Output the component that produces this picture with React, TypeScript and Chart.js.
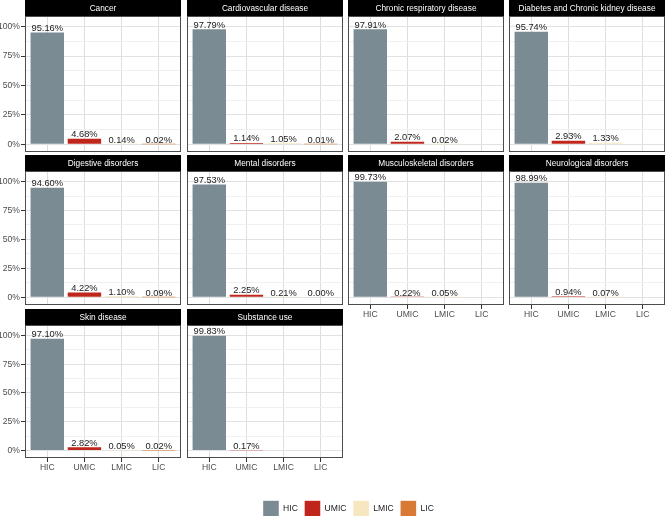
import React, { useEffect, useRef } from 'react';
import { Chart, registerables } from 'chart.js';

Chart.register(...registerables);

// ---------------- data ----------------
const causes = [
  'Cancer',
  'Cardiovascular disease',
  'Chronic respiratory disease',
  'Diabetes and Chronic kidney disease',
  'Digestive disorders',
  'Mental disorders',
  'Musculoskeletal disorders',
  'Neurological disorders',
  'Skin disease',
  'Substance use',
];
const incomeGroups = ['HIC', 'UMIC', 'LMIC', 'LIC'];
const groupColors = ['#7A8B93', '#C0261C', '#F7E7C1', '#D87A35'];

// share (%) of each income group; null = no bar / no label
const cancer = [95.16, 4.68, 0.14, 0.02];
const cardiovascular = [97.79, 1.14, 1.05, 0.01];
const chronicRespiratory = [97.91, 2.07, 0.02, null];
const diabetesCkd = [95.74, 2.93, 1.33, null];
const digestive = [94.6, 4.22, 1.1, 0.09];
const mental = [97.53, 2.25, 0.21, 0.0];
const musculoskeletal = [99.73, 0.22, 0.05, null];
const neurological = [98.99, 0.94, 0.07, null];
const skin = [97.1, 2.82, 0.05, 0.02];
const substance = [99.83, 0.17, null, null];

const yMajorTicks = [0, 25, 50, 75, 100];
const yMinorTicks = [12.5, 37.5, 62.5, 87.5];

const panelValues = [
  cancer, cardiovascular, chronicRespiratory, diabetesCkd, digestive,
  mental, musculoskeletal, neurological, skin, substance,
];
const panels = causes.map((title, i) => ({ title, values: panelValues[i] as (number | null)[] }));

// ---------------- layout ----------------
const FONT = '"Liberation Sans", Arial, Helvetica, sans-serif';
const W = 666;
const H = 516;
const COL_LEFT = [25, 187, 348, 509];
const PANEL_W = 156;
const ROW_STRIP_TOP = [0, 155, 309];
const STRIP_H = 16;
const ROW_PLOT_BOTTOM = [152, 305, 458];
const Y_MIN = -6.6;
const Y_MAX = 109.1;
const Y_AXIS_W = 25;
const X_AXIS_H = 16;

function panelConfig(p: { title: string; values: (number | null)[] }, i: number): any {
  const col = i % 4;
  const row = Math.floor(i / 4);
  const showY = col === 0;
  const showX = row === 2 || (row === 1 && col >= 2);
  const left = COL_LEFT[col];
  const right = left + PANEL_W;
  const plotTop = ROW_STRIP_TOP[row] + STRIP_H;
  const plotBottom = ROW_PLOT_BOTTOM[row];
  const yW = showY ? Y_AXIS_W : 0;
  const xH = showX ? X_AXIS_H : 0;

  const decor = {
    id: 'panelDecor',
    afterDatasetsDraw(chart: any) {
      const ctx = chart.ctx;
      const meta = chart.getDatasetMeta(0);
      ctx.save();
      ctx.font = `9.3px ${FONT}`;
      ctx.fillStyle = '#1a1a1a';
      ctx.textAlign = 'center';
      ctx.textBaseline = 'alphabetic';
      p.values.forEach((v, k) => {
        if (v === null || v === undefined) return;
        const el = meta.data[k];
        if (!el) return;
        ctx.fillText(`${v.toFixed(2)}%`, el.x, el.y - 1.5);
      });
      ctx.restore();
    },
    afterDraw(chart: any) {
      const ctx = chart.ctx;
      const a = chart.chartArea;
      ctx.save();
      ctx.strokeStyle = '#4D4D4D';
      ctx.lineWidth = 1;
      ctx.strokeRect(a.left + 0.5, a.top + 0.5, a.right - a.left - 1, a.bottom - a.top - 1);
      ctx.fillStyle = '#000000';
      ctx.fillRect(a.left, a.top - STRIP_H, a.right - a.left, STRIP_H);
      ctx.fillStyle = '#ffffff';
      ctx.font = `8.3px ${FONT}`;
      ctx.textAlign = 'center';
      ctx.textBaseline = 'middle';
      ctx.fillText(p.title, (a.left + a.right) / 2, a.top - STRIP_H / 2 + 0.5);
      ctx.restore();
    },
  };

  const allY = [...yMajorTicks, ...yMinorTicks].sort((a, b) => a - b);

  return {
    type: 'bar',
    data: {
      datasets: [
        {
          data: p.values.map((v, k) => ({ x: k + 1, y: v })),
          backgroundColor: groupColors,
          borderWidth: 0,
          categoryPercentage: 1,
          barPercentage: 0.9,
        },
      ],
    },
    options: {
      responsive: false,
      animation: false,
      events: [],
      layout: {
        padding: { left: left - yW, top: plotTop, right: W - right, bottom: H - plotBottom - xH },
      },
      plugins: {
        legend: { display: false },
        tooltip: { enabled: false },
        title: { display: false },
      },
      scales: {
        x: {
          type: 'linear',
          min: 0.4,
          max: 4.6,
          offset: false,
          afterBuildTicks: (axis: any) => {
            axis.ticks = incomeGroups.map((_, k) => ({ value: k + 1 }));
          },
          afterFit: (axis: any) => {
            axis.height = xH;
          },
          ticks: {
            display: showX,
            autoSkip: false,
            maxRotation: 0,
            minRotation: 0,
            padding: 0,
            color: '#4D4D4D',
            font: { family: FONT, size: 8.6 },
            callback: (v: number) => incomeGroups[Math.round(v) - 1] ?? '',
          },
          grid: {
            offset: false,
            color: '#DEDEDE',
            lineWidth: 1,
            drawTicks: showX,
            tickLength: 4,
            tickColor: '#333333',
          },
          border: { display: false },
        },
        y: {
          type: 'linear',
          min: Y_MIN,
          max: Y_MAX,
          afterBuildTicks: (axis: any) => {
            axis.ticks = allY.map((v) => ({ value: v }));
          },
          afterFit: (axis: any) => {
            axis.width = yW;
          },
          ticks: {
            display: showY,
            autoSkip: false,
            padding: 1,
            color: '#4D4D4D',
            font: { family: FONT, size: 8.6 },
            callback: (v: number) => (yMajorTicks.includes(v) ? `${v}%` : ''),
          },
          grid: {
            color: (c: any) => (yMajorTicks.includes(c?.tick?.value) ? '#E2E2E2' : '#F0F0F0'),
            lineWidth: 1,
            drawTicks: showY,
            tickLength: 4,
            tickColor: (c: any) => (yMajorTicks.includes(c?.tick?.value) ? '#333333' : 'rgba(0,0,0,0)'),
          },
          border: { display: false },
        },
      },
    },
    plugins: [decor],
  };
}

function legendConfig(): any {
  return {
    type: 'bar',
    data: {
      labels: [],
      datasets: incomeGroups.map((g, k) => ({
        label: g,
        data: [],
        backgroundColor: groupColors[k],
        borderColor: 'rgba(0,0,0,0)',
        borderWidth: 0,
      })),
    },
    options: {
      responsive: false,
      animation: false,
      events: [],
      layout: { padding: { left: 31, top: 0, right: 0, bottom: 0 } },
      scales: { x: { display: false }, y: { display: false } },
      plugins: {
        tooltip: { enabled: false },
        legend: {
          display: true,
          position: 'top',
          align: 'center',
          labels: {
            boxWidth: 15.6,
            boxHeight: 15.6,
            padding: 6.8,
            color: '#1a1a1a',
            font: { family: FONT, size: 8.6 },
          },
        },
      },
    },
  };
}

export default function App() {
  const refs = useRef<(HTMLCanvasElement | null)[]>([]);
  const legendRef = useRef<HTMLCanvasElement | null>(null);

  useEffect(() => {
    const charts: Chart[] = [];
    panels.forEach((p, i) => {
      const c = refs.current[i];
      if (c) charts.push(new Chart(c, panelConfig(p, i)));
    });
    if (legendRef.current) charts.push(new Chart(legendRef.current, legendConfig()));
    return () => charts.forEach((c) => c.destroy());
  }, []);

  return (
    <div
      style={{
        position: 'fixed',
        left: 0,
        top: 0,
        width: W,
        height: H,
        overflow: 'hidden',
        background: '#ffffff',
      }}
    >
      {panels.map((p, i) => (
        <canvas
          key={p.title}
          ref={(el) => {
            refs.current[i] = el;
          }}
          width={W}
          height={H}
          style={{ position: 'absolute', left: 0, top: 0 }}
        />
      ))}
      <canvas
        ref={legendRef}
        width={W}
        height={60}
        style={{ position: 'absolute', left: 0, top: 494 }}
      />
    </div>
  );
}
